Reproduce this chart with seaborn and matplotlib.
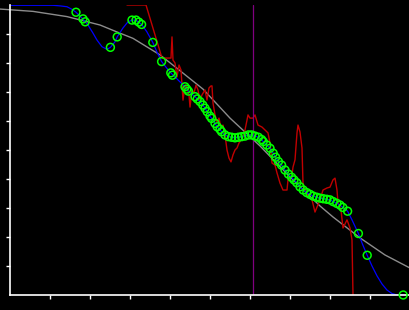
import numpy as np
import pandas as pd
import matplotlib
matplotlib.use("Agg")
import matplotlib.pyplot as plt
import seaborn as sns

# ---- data ----
gray_x = [-2.5, 5.75, 14.25, 22.5, 26.75, 30.75, 37.5, 42, 48.25, 55, 62.5, 70, 77.5, 80.75, 87.5, 93.75, 100]
gray_y = [9.86, 9.78, 9.60, 9.31, 9.07, 8.85, 8.28, 7.79, 7.10, 6.10, 5.14, 4.07, 3.07, 2.69, 1.97, 1.38, 0.93]

pts_x = [16.5, 18.25, 18.8, 25.1, 26.8, 30.5, 31.5, 32.2, 32.9, 35.7, 37.9, 40.2, 40.6,
         43.75, 44.2, 44.6, 46.25, 46.8, 47.5, 48.2, 48.75, 49.3, 50.0, 50.4, 51.25, 51.8,
         52.5, 52.9, 53.75, 54.6, 55.4, 56.25, 57.1, 57.9, 58.75, 59.6, 60.4, 61.25, 62.1,
         62.9, 63.3, 64.2, 65.0, 65.8, 66.4, 67.1, 67.9, 68.75, 69.6, 70.4, 71.0, 71.7,
         72.5, 73.3, 74.2, 75.0, 75.8, 76.7, 77.5, 78.3, 79.2, 80.0, 80.8, 81.7, 82.5,
         83.2, 84.4, 87.1, 89.3, 98.3]
pts_y = [9.75, 9.52, 9.42, 8.54, 8.90, 9.48, 9.48, 9.41, 9.33, 8.71, 8.05, 7.66, 7.58,
         7.18, 7.10, 7.03, 6.84, 6.76, 6.67, 6.55, 6.44, 6.32, 6.17, 6.09, 5.92, 5.80,
         5.71, 5.63, 5.52, 5.46, 5.44, 5.42, 5.44, 5.46, 5.48, 5.52, 5.52, 5.48, 5.44,
         5.36, 5.29, 5.17, 5.06, 4.89, 4.75, 4.60, 4.48, 4.31, 4.17, 4.06, 3.97, 3.87,
         3.73, 3.62, 3.53, 3.47, 3.41, 3.37, 3.34, 3.32, 3.30, 3.28, 3.22, 3.16, 3.10,
         3.02, 2.89, 2.12, 1.37, 0.0]

blue_head_x = [0, 10.75, 12.5, 14.25, 15.5, 16.5, 18.0, 19.5, 20.75, 21.75, 23.0, 24.25, 25.1,
               26.25, 26.8, 28.25, 29.5, 30.5, 31.5, 32.9, 34.2, 35.7, 36.7, 37.9, 39.2, 40.2]
blue_head_y = [9.99, 9.99, 9.97, 9.94, 9.85, 9.75, 9.55, 9.31, 9.03, 8.79, 8.56, 8.47, 8.54,
               8.73, 8.90, 9.21, 9.42, 9.48, 9.48, 9.33, 9.08, 8.71, 8.39, 8.05, 7.82, 7.66]
blue_tail_x = [85.5, 87.1, 88.1, 89.3, 90.5, 91.75, 93.0, 94.25, 95.5, 96.75, 98.3]
blue_tail_y = [2.59, 2.12, 1.76, 1.37, 1.00, 0.66, 0.38, 0.17, 0.05, 0.0, 0.0]

red_x = [29.25, 34.0, 38.0, 40.25, 40.5, 40.75, 41.25, 41.75, 42.25, 42.75, 43.25, 43.75, 44.25,
         44.75, 45.0, 45.5, 46.0, 46.5, 47.0, 47.5, 48.0, 48.75, 49.25, 49.75, 50.25, 50.5,
         50.75, 51.25, 51.75, 52.25, 52.75, 53.25, 53.75, 54.25, 54.75, 55.25, 55.75, 56.25,
         56.75, 57.25, 57.75, 58.25, 58.75, 59.25, 59.5, 60.0, 60.75, 61.25, 62.0, 63.0,
         63.75, 64.5, 65.0, 65.5, 66.25, 66.75, 67.5, 68.25, 69.25, 69.5, 70.5, 70.75, 71.25,
         71.75, 72.0, 72.5, 73.0, 73.25, 73.75, 74.5, 75.5, 76.25, 76.75, 77.5, 78.25, 79.25,
         80.0, 80.75, 81.25, 81.75, 82.0, 82.75, 83.25, 84.25, 85.0, 85.5, 85.75]
red_y = [10.0, 10.0, 8.17, 8.17, 8.90, 8.10, 8.0, 7.52, 7.93, 7.76, 6.72, 7.24, 7.17,
         6.90, 6.48, 7.07, 6.97, 7.24, 7.07, 6.72, 6.90, 7.07, 6.72, 7.14, 7.21, 7.21,
         6.62, 6.21, 5.97, 6.10, 5.76, 5.86, 5.52, 5.0, 4.72, 4.59, 4.83, 5.0,
         5.07, 5.24, 5.34, 5.45, 5.69, 6.03, 6.21, 6.10, 6.10, 6.21, 5.86, 5.79,
         5.69, 5.59, 5.24, 4.55, 4.48, 4.21, 3.86, 3.62, 3.62, 3.97, 4.14, 4.41, 4.66,
         5.59, 5.86, 5.62, 5.07, 3.86, 3.62, 3.38, 3.28, 2.86, 3.03, 3.28, 3.62, 3.69,
         3.72, 3.97, 4.03, 3.62, 3.17, 2.93, 2.31, 2.59, 2.31, 1.90, 0.0]

vline_x = 60.75
x_ticks = [10, 20, 30, 40, 50, 60, 70, 80, 90]
y_ticks = [1, 2, 3, 4, 5, 6, 7, 8, 9]

# ---- build frames ----
blue_x = blue_head_x + pts_x[13:67] + blue_tail_x
blue_y = blue_head_y + pts_y[13:67] + blue_tail_y
df_gray = pd.DataFrame({"x": gray_x, "y": gray_y})
df_blue = pd.DataFrame({"x": blue_x, "y": blue_y})
df_red = pd.DataFrame({"x": red_x, "y": red_y})
df_pts = pd.DataFrame({"x": pts_x, "y": pts_y})

sns.set_style("dark", {"axes.facecolor": "black", "figure.facecolor": "black"})
plt.rcParams["font.family"] = ["DejaVu Sans"]

fig = plt.figure(figsize=(4.1, 3.1), dpi=100, facecolor="black")
ax = fig.add_axes([10 / 410, 15 / 310, 400 / 410, 290 / 310])
ax.set_facecolor("black")

sns.lineplot(data=df_gray, x="x", y="y", ax=ax, color="#8c8c8c", linewidth=1.0,
             estimator=None, sort=False)
ax.lines[-1].set_clip_on(False)
sns.lineplot(data=df_red, x="x", y="y", ax=ax, color="#c00000", linewidth=1.0,
             estimator=None, sort=False)
ax.axvline(vline_x, color="#800080", linewidth=0.9)
sns.lineplot(data=df_blue, x="x", y="y", ax=ax, color="#0000ff", linewidth=0.9,
             estimator=None, sort=False)
sns.scatterplot(data=df_pts, x="x", y="y", ax=ax, s=32, facecolor="none",
                edgecolor="#00ff00", linewidth=1.1, clip_on=False, zorder=5)

ax.set_xlim(0, 100)
ax.set_ylim(0, 10)
ax.set_xticks(x_ticks)
ax.set_yticks(y_ticks)
ax.set_xticklabels([])
ax.set_yticklabels([])
ax.set_xlabel("")
ax.set_ylabel("")
ax.grid(False)
ax.tick_params(colors="white", direction="out", length=3, width=1,
               bottom=True, left=True)
for side in ["top", "right"]:
    ax.spines[side].set_visible(False)
for side in ["left", "bottom"]:
    ax.spines[side].set_visible(True)
    ax.spines[side].set_color("white")
    ax.spines[side].set_linewidth(1.2)

fig.savefig("out.png", dpi=100, facecolor="black")
